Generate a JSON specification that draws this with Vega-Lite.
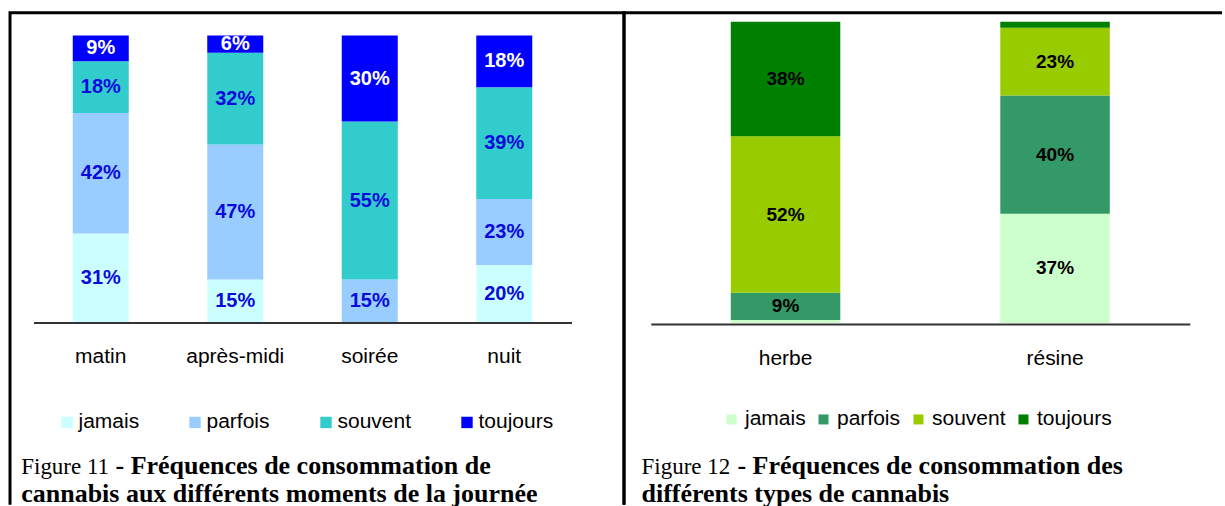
{
  "$schema": "https://vega.github.io/schema/vega-lite/v6.json",
  "padding": {"left": 8, "top": 10.7, "right": 0, "bottom": 0},
  "background": "white",
  "spacing": 0,
  "bounds": "flush",
  "config": {"font": "Liberation Sans"},
  "resolve": {
    "scale": {"x": "independent", "y": "independent", "fill": "independent"},
    "legend": {"fill": "independent"}
  },
  "hconcat": [
    {
      "width": 614,
      "height": 492,
      "view": {"stroke": "black", "strokeWidth": 3, "strokeDash": [1106, 614, 492]},
      "data": {
        "values": [
          {"cat": "matin", "freq": "jamais", "v": 0.31},
          {"cat": "matin", "freq": "parfois", "v": 0.42},
          {"cat": "matin", "freq": "souvent", "v": 0.18},
          {"cat": "matin", "freq": "toujours", "v": 0.09},
          {"cat": "après-midi", "freq": "jamais", "v": 0.15},
          {"cat": "après-midi", "freq": "parfois", "v": 0.47},
          {"cat": "après-midi", "freq": "souvent", "v": 0.32},
          {"cat": "après-midi", "freq": "toujours", "v": 0.06},
          {"cat": "soirée", "freq": "jamais", "v": 0.0},
          {"cat": "soirée", "freq": "parfois", "v": 0.15},
          {"cat": "soirée", "freq": "souvent", "v": 0.55},
          {"cat": "soirée", "freq": "toujours", "v": 0.30},
          {"cat": "nuit", "freq": "jamais", "v": 0.20},
          {"cat": "nuit", "freq": "parfois", "v": 0.23},
          {"cat": "nuit", "freq": "souvent", "v": 0.39},
          {"cat": "nuit", "freq": "toujours", "v": 0.18}
        ]
      },
      "layer": [
        {
          "mark": {"type": "bar"},
          "transform": [
            {"stack": "v", "groupby": ["cat"], "sort": [{"field": "freq", "order": "ascending"}], "offset": "normalize", "as": ["s0", "s1"]}
          ],
          "encoding": {
            "x": {
              "field": "cat", "type": "nominal",
              "scale": {"domain": ["matin", "après-midi", "soirée", "nuit"], "range": [23.5, 561.5], "paddingInner": 0.5836, "paddingOuter": 0.2918},
              "axis": {"orient": "bottom", "offset": -182.2, "title": null, "ticks": false, "domain": true, "domainColor": "#333333", "domainWidth": 2, "labelAngle": 0, "labelFont": "Liberation Sans", "labelFontSize": 21, "labelColor": "black", "labelPadding": 23.5, "zindex": 1}
            },
            "y": {"field": "s0", "type": "quantitative", "scale": {"domain": [-0.6349, 1.0794], "nice": false, "zero": false}, "axis": null},
            "y2": {"field": "s1"},
            "fill": {
              "field": "freq", "type": "nominal",
              "scale": {"domain": ["jamais", "parfois", "souvent", "toujours"], "range": ["#CCFFFF", "#99CCFF", "#33CCCC", "#0000FF"]},
              "legend": {"orient": "none", "legendX": 46.5, "legendY": 399, "direction": "horizontal", "title": null, "symbolType": "square", "symbolSize": 130, "symbolStrokeWidth": 0, "labelFont": "Liberation Sans", "labelFontSize": 21, "labelColor": "black", "labelOffset": 1, "columnPadding": 45, "padding": 0}
            }
          }
        },
        {
          "mark": {"type": "text", "fontWeight": "bold", "fontSize": 20, "baseline": "middle", "font": "Liberation Sans"},
          "transform": [
            {"stack": "v", "groupby": ["cat"], "sort": [{"field": "freq", "order": "ascending"}], "offset": "normalize", "as": ["s0", "s1"]},
            {"filter": "datum.v >= 0.05"},
            {"fold": ["s0", "s1"], "as": ["k", "sv"]},
            {"aggregate": [{"op": "mean", "field": "sv", "as": "mid"}], "groupby": ["cat", "freq", "v"]}
          ],
          "encoding": {
            "x": {"field": "cat", "type": "nominal", "scale": {"domain": ["matin", "après-midi", "soirée", "nuit"], "range": [23.5, 561.5], "paddingInner": 0.5836, "paddingOuter": 0.2918}},
            "y": {"field": "mid", "type": "quantitative", "scale": {"domain": [-0.6349, 1.0794], "nice": false, "zero": false}},
            "text": {"field": "v", "type": "quantitative", "format": ".0%"},
            "color": {"condition": {"test": "datum.freq === 'toujours'", "value": "white"}, "value": "#0A0ADC"}
          }
        },
        {
          "data": {"values": [{"t": "Figure 11"}]},
          "mark": {"type": "text", "align": "left", "baseline": "alphabetic", "font": "Liberation Serif", "fontSize": 23, "fontWeight": "normal", "color": "black"},
          "encoding": {
            "x": {"datum": "matin", "type": "nominal", "bandPosition": -0.9205, "scale": {"domain": ["matin", "après-midi", "soirée", "nuit"], "range": [23.5, 561.5], "paddingInner": 0.5836, "paddingOuter": 0.2918}},
            "y": {"datum": -0.5296, "type": "quantitative", "scale": {"domain": [-0.6349, 1.0794], "nice": false, "zero": false}},
            "text": {"field": "t", "type": "nominal"}
          }
        },
        {
          "data": {"values": [{"t": "- Fréquences de consommation de"}]},
          "mark": {"type": "text", "align": "left", "baseline": "alphabetic", "font": "Liberation Serif", "fontSize": 26, "fontWeight": "bold", "color": "black"},
          "encoding": {
            "x": {"datum": "matin", "type": "nominal", "bandPosition": 0.763, "scale": {"domain": ["matin", "après-midi", "soirée", "nuit"], "range": [23.5, 561.5], "paddingInner": 0.5836, "paddingOuter": 0.2918}},
            "y": {"datum": -0.5296, "type": "quantitative", "scale": {"domain": [-0.6349, 1.0794], "nice": false, "zero": false}},
            "text": {"field": "t", "type": "nominal"}
          }
        },
        {
          "data": {"values": [{"t": "cannabis aux différents moments de la journée"}]},
          "mark": {"type": "text", "align": "left", "baseline": "alphabetic", "font": "Liberation Serif", "fontSize": 26, "fontWeight": "bold", "color": "black"},
          "encoding": {
            "x": {"datum": "matin", "type": "nominal", "bandPosition": -0.9205, "scale": {"domain": ["matin", "après-midi", "soirée", "nuit"], "range": [23.5, 561.5], "paddingInner": 0.5836, "paddingOuter": 0.2918}},
            "y": {"datum": -0.6254, "type": "quantitative", "scale": {"domain": [-0.6349, 1.0794], "nice": false, "zero": false}},
            "text": {"field": "t", "type": "nominal"}
          }
        }
      ]
    },
    {
      "width": 598,
      "height": 492,
      "view": {"stroke": "black", "strokeWidth": 3, "strokeDash": [598, 1090, 492]},
      "data": {
        "values": [
          {"cat": "herbe", "freq": "jamais", "v": 0.01},
          {"cat": "herbe", "freq": "parfois", "v": 0.09},
          {"cat": "herbe", "freq": "souvent", "v": 0.52},
          {"cat": "herbe", "freq": "toujours", "v": 0.38},
          {"cat": "résine", "freq": "jamais", "v": 0.37},
          {"cat": "résine", "freq": "parfois", "v": 0.40},
          {"cat": "résine", "freq": "souvent", "v": 0.23},
          {"cat": "résine", "freq": "toujours", "v": 0.02}
        ]
      },
      "layer": [
        {
          "mark": {"type": "bar"},
          "transform": [
            {"stack": "v", "groupby": ["cat"], "sort": [{"field": "freq", "order": "ascending"}], "offset": "normalize", "as": ["s0", "s1"]}
          ],
          "encoding": {
            "x": {
              "field": "cat", "type": "nominal",
              "scale": {"domain": ["herbe", "résine"], "range": [26.8, 565.8], "paddingInner": 0.5937, "paddingOuter": 0.2968},
              "axis": {"orient": "bottom", "offset": -180.7, "title": null, "ticks": false, "domain": true, "domainColor": "#333333", "domainWidth": 2, "labelAngle": 0, "labelFont": "Liberation Sans", "labelFontSize": 21, "labelColor": "black", "labelPadding": 24, "zindex": 1}
            },
            "y": {"field": "s0", "type": "quantitative", "scale": {"domain": [-0.6033, 1.0302], "nice": false, "zero": false}, "axis": null},
            "y2": {"field": "s1"},
            "fill": {
              "field": "freq", "type": "nominal",
              "scale": {"domain": ["jamais", "parfois", "souvent", "toujours"], "range": ["#CCFFCC", "#339966", "#99CC00", "#008000"]},
              "legend": {"orient": "none", "legendX": 97, "legendY": 396, "direction": "horizontal", "title": null, "symbolType": "square", "symbolSize": 100, "symbolStrokeWidth": 0, "labelFont": "Liberation Sans", "labelFontSize": 21, "labelColor": "black", "labelOffset": 3, "columnPadding": 7, "padding": 0}
            }
          }
        },
        {
          "mark": {"type": "text", "fontWeight": "bold", "fontSize": 19, "baseline": "middle", "font": "Liberation Sans", "color": "black"},
          "transform": [
            {"stack": "v", "groupby": ["cat"], "sort": [{"field": "freq", "order": "ascending"}], "offset": "normalize", "as": ["s0", "s1"]},
            {"filter": "datum.v >= 0.05"},
            {"fold": ["s0", "s1"], "as": ["k", "sv"]},
            {"aggregate": [{"op": "mean", "field": "sv", "as": "mid"}], "groupby": ["cat", "freq", "v"]}
          ],
          "encoding": {
            "x": {"field": "cat", "type": "nominal", "scale": {"domain": ["herbe", "résine"], "range": [26.8, 565.8], "paddingInner": 0.5937, "paddingOuter": 0.2968}},
            "y": {"field": "mid", "type": "quantitative", "scale": {"domain": [-0.6033, 1.0302], "nice": false, "zero": false}},
            "text": {"field": "v", "type": "quantitative", "format": ".0%"}
          }
        },
        {
          "data": {"values": [{"t": "Figure 12"}]},
          "mark": {"type": "text", "align": "left", "baseline": "alphabetic", "font": "Liberation Serif", "fontSize": 23, "fontWeight": "normal", "color": "black"},
          "encoding": {
            "x": {"datum": "herbe", "type": "nominal", "bandPosition": -0.8155, "scale": {"domain": ["herbe", "résine"], "range": [26.8, 565.8], "paddingInner": 0.5937, "paddingOuter": 0.2968}},
            "y": {"datum": -0.5030, "type": "quantitative", "scale": {"domain": [-0.6033, 1.0302], "nice": false, "zero": false}},
            "text": {"field": "t", "type": "nominal"}
          }
        },
        {
          "data": {"values": [{"t": "- Fréquences de consommation des"}]},
          "mark": {"type": "text", "align": "left", "baseline": "alphabetic", "font": "Liberation Serif", "fontSize": 26, "fontWeight": "bold", "color": "black"},
          "encoding": {
            "x": {"datum": "herbe", "type": "nominal", "bandPosition": 0.061, "scale": {"domain": ["herbe", "résine"], "range": [26.8, 565.8], "paddingInner": 0.5937, "paddingOuter": 0.2968}},
            "y": {"datum": -0.5030, "type": "quantitative", "scale": {"domain": [-0.6033, 1.0302], "nice": false, "zero": false}},
            "text": {"field": "t", "type": "nominal"}
          }
        },
        {
          "data": {"values": [{"t": "différents types de cannabis"}]},
          "mark": {"type": "text", "align": "left", "baseline": "alphabetic", "font": "Liberation Serif", "fontSize": 26, "fontWeight": "bold", "color": "black"},
          "encoding": {
            "x": {"datum": "herbe", "type": "nominal", "bandPosition": -0.8155, "scale": {"domain": ["herbe", "résine"], "range": [26.8, 565.8], "paddingInner": 0.5937, "paddingOuter": 0.2968}},
            "y": {"datum": -0.5943, "type": "quantitative", "scale": {"domain": [-0.6033, 1.0302], "nice": false, "zero": false}},
            "text": {"field": "t", "type": "nominal"}
          }
        }
      ]
    }
  ]
}
